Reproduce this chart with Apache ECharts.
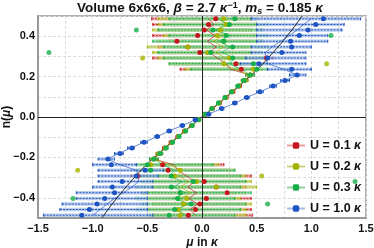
<!DOCTYPE html>
<html><head><meta charset="utf-8">
<script src="https://cdn.jsdelivr.net/npm/echarts@6/dist/echarts.min.js"></script>
<style>html,body{margin:0;padding:0;background:#fff}#c{width:374px;height:248px}</style>
</head><body><div id="c"></div>
<script>
// rows: particle-number density n (y), bottom to top
const rows = [-0.486,-0.458,-0.431,-0.403,-0.375,-0.347,-0.319,-0.292,-0.264,-0.236,-0.208,-0.181,-0.153,-0.125,-0.097,-0.069,-0.042,-0.014,
               0.014,0.042,0.069,0.097,0.125,0.153,0.181,0.208,0.236,0.264,0.292,0.319,0.347,0.375,0.403,0.431,0.458,0.486];
const xTicks = [-1.5,-1.0,-0.5,0.0,0.5,1.0,1.5];
const yTicks = [-0.4,-0.2,0.0,0.2,0.4];
const labels = ['U = 0.1 κ','U = 0.2 κ','U = 0.3 κ','U = 1.0 κ'];

// U = 0.1
const redDot  = [-0.125,-0.06,-0.02,0.04,0.23,0.13,0.02,-0.59,-0.31,-0.36,-0.44,-0.39,-0.34,-0.28,-0.22,-0.16,-0.095,-0.03,
                  0.03,0.095,0.16,0.22,0.28,0.34,0.39,0.44,0.36,0.31,0.59,-0.02,-0.13,-0.23,-0.04,0.02,0.06,0.125];
const redLo   = [-0.45,-0.5,-0.45,-0.5,-0.45,-0.4,-0.45,-0.65,-0.5,-0.45,-0.48,-0.42,-0.36,-0.30,-0.235,-0.17,-0.105,-0.04,
                  0.02,0.085,0.15,0.205,0.26,0.32,0.36,0.40,-0.2,-0.25,-0.45,-0.35,-0.4,-0.3,-0.45,-0.4,-0.45,-0.46];
const redHi   = [0.46,0.45,0.4,0.45,0.3,0.4,0.35,0.45,0.25,0.2,-0.40,-0.36,-0.32,-0.26,-0.205,-0.15,-0.085,-0.02,
                  0.04,0.105,0.17,0.235,0.30,0.36,0.42,0.48,0.45,0.5,0.65,0.45,0.4,0.45,0.5,0.45,0.5,0.45];
const redLine = [-0.06,-0.11,-0.04,-0.12,-0.05,-0.13,-0.07,-0.14,-0.22,-0.26,-0.44,-0.39,-0.34,-0.28,-0.22,-0.16,-0.095,-0.03,
                  0.03,0.095,0.16,0.22,0.28,0.34,0.39,0.44,0.26,0.22,0.14,0.07,0.13,0.05,0.12,0.04,0.11,0.06];
// U = 0.2
const oliDot  = [-0.2,-0.22,-0.17,-0.14,-0.2,0.13,-0.05,-0.25,-0.2,-0.47,-0.44,-0.39,-0.335,-0.275,-0.215,-0.155,-0.09,-0.03,
                  0.03,0.09,0.155,0.215,0.275,0.335,0.39,0.44,0.47,0.2,0.25,0.05,-0.13,0.2,0.14,0.17,0.22,0.2];
const oliLo   = [-0.45,-0.5,-0.45,-0.5,-0.55,-0.45,-0.5,-0.55,-0.5,-0.55,-0.48,-0.42,-0.355,-0.29,-0.23,-0.165,-0.10,-0.04,
                  0.02,0.08,0.145,0.2,0.26,0.315,0.36,0.40,-0.15,-0.3,-0.4,-0.45,-0.5,-0.4,-0.35,-0.45,-0.4,-0.4];
const oliHi   = [0.4,0.4,0.45,0.35,0.4,0.5,0.45,0.4,0.3,0.15,-0.40,-0.36,-0.315,-0.26,-0.2,-0.145,-0.08,-0.02,
                  0.04,0.10,0.165,0.23,0.29,0.355,0.42,0.48,0.55,0.5,0.55,0.5,0.45,0.55,0.5,0.45,0.5,0.45];
const oliLine = [-0.15,-0.22,-0.14,-0.2,-0.1,-0.2,-0.12,-0.22,-0.18,-0.3,-0.44,-0.39,-0.335,-0.275,-0.215,-0.155,-0.09,-0.03,
                  0.03,0.09,0.155,0.215,0.275,0.335,0.39,0.44,0.3,0.18,0.22,0.12,0.2,0.1,0.2,0.14,0.22,0.15];
// U = 0.3
const grnDot  = [-0.3,-0.25,-0.1,-0.22,-0.2,-0.28,-0.08,-0.28,-0.47,-0.5,-0.44,-0.385,-0.33,-0.27,-0.21,-0.15,-0.09,-0.03,
                  0.03,0.09,0.15,0.21,0.27,0.33,0.385,0.44,0.5,0.47,0.28,0.08,0.28,0.2,0.22,0.1,0.25,0.3];
const grnLo   = [-0.5,-0.6,-0.55,-0.6,-0.55,-0.6,-0.55,-0.6,-0.6,-0.6,-0.48,-0.41,-0.35,-0.285,-0.225,-0.16,-0.10,-0.04,
                  0.02,0.08,0.14,0.195,0.255,0.31,0.36,0.40,-0.1,-0.3,-0.35,-0.4,-0.35,-0.45,-0.3,-0.4,-0.35,-0.3];
const grnHi   = [0.3,0.35,0.4,0.3,0.45,0.35,0.4,0.35,0.3,0.1,-0.40,-0.36,-0.31,-0.255,-0.195,-0.14,-0.08,-0.02,
                  0.04,0.10,0.16,0.225,0.285,0.35,0.41,0.48,0.6,0.6,0.6,0.55,0.6,0.55,0.6,0.55,0.6,0.5];
const grnLine = [-0.15,-0.24,-0.12,-0.26,-0.15,-0.26,-0.18,-0.3,-0.25,-0.36,-0.44,-0.385,-0.33,-0.27,-0.21,-0.15,-0.09,-0.03,
                  0.03,0.09,0.15,0.21,0.27,0.33,0.385,0.44,0.36,0.25,0.3,0.18,0.26,0.15,0.26,0.12,0.24,0.15];
// U = 1.0
const bluDot  = [-1.10,-1.03,-0.96,-0.89,-0.80,-0.82,-0.73,-0.6,-0.52,-0.83,-0.86,-0.75,-0.64,-0.53,-0.41,-0.30,-0.18,-0.06,
                  0.06,0.18,0.30,0.41,0.53,0.65,0.76,0.87,0.82,0.52,0.6,0.73,0.82,0.81,0.89,0.97,1.04,1.11];
const bluLo   = [-1.45,-1.3,-1.28,-1.15,-1.15,-1.0,-0.95,-0.95,-0.95,-1.0,-0.95,-0.8,-0.68,-0.56,-0.43,-0.32,-0.2,-0.08,
                  0.04,0.16,0.28,0.39,0.5,0.62,0.72,0.8,0.6,0.35,0.4,0.45,0.45,0.5,0.5,0.5,0.5,0.45];
const bluHi   = [-0.45,-0.5,-0.5,-0.5,-0.5,-0.45,-0.45,-0.4,-0.35,-0.6,-0.8,-0.72,-0.62,-0.5,-0.39,-0.28,-0.16,-0.04,
                  0.08,0.2,0.32,0.43,0.56,0.68,0.8,0.95,1.0,0.95,0.95,0.95,1.0,1.15,1.15,1.28,1.3,1.45];
const bluLine = [-1.0,-0.93,-0.87,-0.8,-0.72,-0.64,-0.58,-0.58,-0.6,-0.75,-0.87,-0.76,-0.65,-0.53,-0.41,-0.30,-0.18,-0.06,
                  0.06,0.18,0.30,0.41,0.53,0.65,0.76,0.87,0.75,0.6,0.58,0.58,0.64,0.72,0.8,0.87,0.93,1.0];

// isolated points (no visible bars)
const oliOutMu = [-0.543,1.14,0.546,-1.137];
const oliOutN  = [0.292,0.264,-0.292,-0.264];
const grnOutMu = [-1.40,1.18,-0.60,1.40,-1.18,0.60];
const grnOutN  = [0.319,0.403,0.431,-0.319,-0.403,-0.431];

// reference (black) curve
const refMu = [-0.915,-0.8,-0.6,-0.44,-0.3,-0.15,0,0.15,0.3,0.44,0.6,0.8,0.915];
const refN  = [-0.5,-0.416,-0.289,-0.202,-0.134,-0.066,0,0.066,0.134,0.202,0.289,0.416,0.5];

const C = {
  red:  {c:'#c4161c', l:'#e8a0a0'},
  oli:  {c:'#a6b400', l:'#cbd48a'},
  grn:  {c:'#18b04a', l:'#95d4a4'},
  blu:  {c:'#1f55c2', l:'#a6bde6'}
};
const FF = 'Liberation Sans, Arial, sans-serif';

function bars(col, lo, hi) {
  return {
    type: 'custom', silent: true, z: 2, clip: true,
    renderItem(params, api) {
      const y = api.value(0), a = api.value(1), b = api.value(2);
      const p1 = api.coord([a, y]), p2 = api.coord([b, y]);
      return {type: 'group', children: [
        {type: 'line', shape: {x1: p1[0], y1: p1[1], x2: p2[0], y2: p2[1]}, style: {stroke: col.l, lineWidth: 3.5, opacity: 0.75}},
        {type: 'line', shape: {x1: p1[0], y1: p1[1], x2: p2[0], y2: p2[1]}, style: {stroke: col.c, lineWidth: 1, lineDash: [2, 1.2]}},
        {type: 'line', shape: {x1: p1[0], y1: p1[1]-1.5, x2: p1[0], y2: p1[1]+1.5}, style: {stroke: col.c, lineWidth: 1}},
        {type: 'line', shape: {x1: p2[0], y1: p2[1]-1.5, x2: p2[0], y2: p2[1]+1.5}, style: {stroke: col.c, lineWidth: 1}}
      ]};
    },
    encode: {x: [1, 2], y: 0},
    data: rows.map((n, i) => [n, lo[i], hi[i]])
  };
}
function thin(col, xs) {
  return {type: 'line', silent: true, z: 4, symbol: 'none', smooth: false,
    lineStyle: {color: col.c, width: 0.8, opacity: 0.85},
    data: rows.map((n, i) => [xs[i], n])};
}
function dots(col, xs) {
  return {type: 'scatter', silent: true, z: 5, symbolSize: 5,
    itemStyle: {color: col.c, opacity: 1},
    data: rows.map((n, i) => [xs[i], n])};
}
function legendSeries(name, col) {
  return {type: 'line', name, data: [], symbol: 'roundRect', symbolSize: 6,
    itemStyle: {color: col.c}, lineStyle: {color: col.l, width: 1.5, type: 'dashed'}};
}
const fmt = v => (v < 0 ? '\u2212' : '') + Math.abs(v).toFixed(1);
const rt = (size, lh) => ({
  b: {fontFamily: FF, fontWeight: 'bold', fontSize: size, color: '#111', lineHeight: lh},
  i: {fontFamily: FF, fontWeight: 'bold', fontStyle: 'italic', fontSize: size, color: '#111', lineHeight: lh}
});

const chart = echarts.init(document.getElementById('c'), null, {renderer: 'canvas'});
const titleRich = rt(13.5, 15);
titleRich.sup = {fontFamily: FF, fontWeight: 'bold', fontSize: 9, color: '#111', lineHeight: 15, verticalAlign: 'top'};
titleRich.sub = {fontFamily: FF, fontWeight: 'bold', fontStyle: 'italic', fontSize: 9, color: '#111', lineHeight: 15, verticalAlign: 'bottom'};
chart.setOption({
  animation: false,
  backgroundColor: '#fff',
  title: {
    text: '{b|Volume 6x6x6, }{i|β}{b| = 2.7 }{i|κ}{sup|−1}{b|, }{i|m}{sub|s}{b| = 0.185 }{i|κ}',
    left: 77, top: 1, padding: 0,
    textStyle: {rich: titleRich}
  },
  grid: {left: 38, right: 8, top: 16, bottom: 30, show: true, borderColor: '#999', borderWidth: 1.5,
         outerBoundsMode: 'none', containLabel: false},
  xAxis: {
    type: 'value', min: -1.5, max: 1.5, interval: 0.25,
    name: '{i|μ}{b| in }{i|κ}', nameLocation: 'middle', nameGap: 18, nameMoveOverlap: false,
    nameTextStyle: {rich: rt(12, 14)},
    axisLine: {onZero: false, lineStyle: {color: '#999', width: 2}},
    axisTick: {show: false},
    axisLabel: {margin: 5, fontFamily: FF, fontWeight: 'bold', fontSize: 11, color: '#111',
      formatter: v => xTicks.some(t => Math.abs(t - v) < 1e-6) ? fmt(v) : ''},
    splitLine: {show: true, lineStyle: {color: '#ddd', type: [3, 2], width: 1}}
  },
  yAxis: {
    type: 'value', min: -0.5, max: 0.5, interval: 0.1,
    name: '{b|n(}{i|μ}{b|)}', nameLocation: 'middle', nameGap: 24, nameMoveOverlap: false,
    nameTextStyle: {rich: rt(12, 14)},
    axisLine: {onZero: false, lineStyle: {color: '#999', width: 2}},
    axisTick: {show: false},
    axisLabel: {margin: 3, fontFamily: FF, fontWeight: 'bold', fontSize: 11, color: '#111',
      formatter: v => yTicks.some(t => Math.abs(t - v) < 1e-6) ? fmt(v) : ''},
    splitLine: {show: true, lineStyle: {color: '#ddd', type: [3, 2], width: 1}}
  },
  legend: {
    orient: 'vertical', left: 286, top: 139, itemGap: 8, itemWidth: 18, itemHeight: 8, padding: 0,
    data: labels,
    formatter: name => '{b|' + name.slice(0, -1) + '}{i|κ}',
    textStyle: {rich: rt(12.5, 14)}
  },
  series: [
    bars(C.red, redLo, redHi),
    bars(C.oli, oliLo, oliHi),
    bars(C.grn, grnLo, grnHi),
    bars(C.blu, bluLo, bluHi),
    {type: 'line', silent: true, z: 3, symbol: 'none', data: [],
     markLine: {silent: true, symbol: 'none', label: {show: false},
       lineStyle: {color: '#222', width: 1, type: 'solid'}, data: [{xAxis: 0}, {yAxis: 0}]}},
    {type: 'line', silent: true, z: 3, symbol: 'none', smooth: true,
     lineStyle: {color: '#222', width: 1},
     data: refMu.map((m, i) => [m, refN[i]])},
    thin(C.red, redLine), thin(C.oli, oliLine), thin(C.grn, grnLine), thin(C.blu, bluLine),
    dots(C.red, redDot), dots(C.oli, oliDot), dots(C.grn, grnDot), dots(C.blu, bluDot),
    {type: 'scatter', silent: true, z: 5, symbolSize: 5, itemStyle: {color: C.oli.c},
     data: oliOutMu.map((m, i) => [m, oliOutN[i]])},
    {type: 'scatter', silent: true, z: 5, symbolSize: 5, itemStyle: {color: C.grn.c},
     data: grnOutMu.map((m, i) => [m, grnOutN[i]])},
    legendSeries(labels[0], C.red), legendSeries(labels[1], C.oli),
    legendSeries(labels[2], C.grn), legendSeries(labels[3], C.blu)
  ]
});
</script></body></html>
